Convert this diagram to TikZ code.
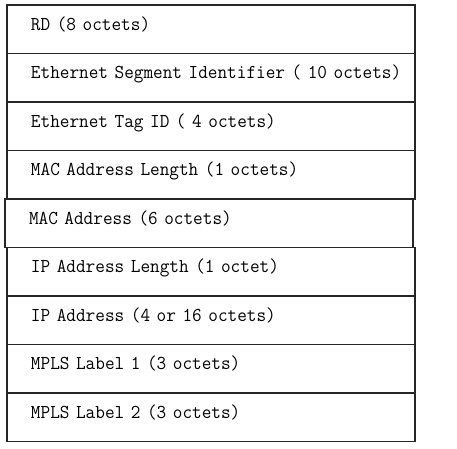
\documentclass[tikz,border=0pt]{standalone}
\usepackage{fontspec}
\setmonofont{Latin Modern Mono}[FakeStretch=0.95]
\usepackage{tikz}
\usetikzlibrary{positioning}

\tikzset{
  field/.style={rectangle, draw=black!85, line width=1.3pt, outer sep=0pt,
    inner xsep=12pt, inner ysep=0pt, text width=384pt, align=left,
    text height=25pt, text depth=23.5pt,
    execute at begin node=\hspace*{12pt},
    font=\fontsize{19.7}{22}\selectfont\ttfamily}
}

\begin{document}
\begin{tikzpicture}
        % Fix the canvas size
        \useasboundingbox (0pt,0pt) rectangle (457pt,-448pt);

        % Route fields, top to bottom
        \node[field, anchor=north west] (rd) at (7pt,-5pt) {RD (8 octets)};
        \node[field, below=0pt of rd] (esi) {Ethernet Segment Identifier ( 10 octets)};
        \node[field, below=0pt of esi] (tag) {Ethernet Tag ID ( 4 octets)};
        \node[field, below=0pt of tag] (maclen) {MAC Address Length (1 octets)};
        \node[field, below=0pt of maclen, xshift=-2pt] (mac) {MAC Address (6 octets)};
        \node[field, below=0pt of mac, xshift=2pt] (iplen) {IP Address Length (1 octet)};
        \node[field, below=0pt of iplen] (ip) {IP Address (4 or 16 octets)};
        \node[field, below=0pt of ip] (lbl1) {MPLS Label 1 (3 octets)};
        \node[field, below=0pt of lbl1] (lbl2) {MPLS Label 2 (3 octets)};
    \end{tikzpicture}
\end{document}
